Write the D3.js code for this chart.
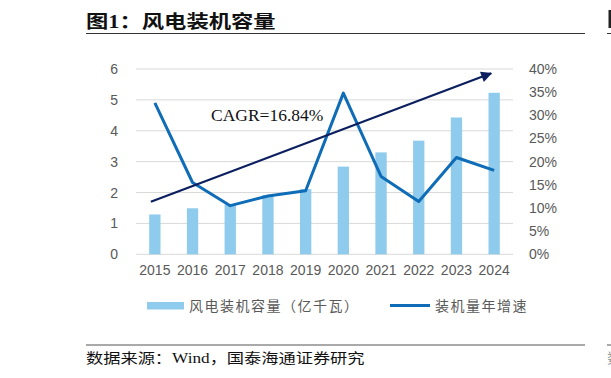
<!DOCTYPE html>
<html>
<head>
<meta charset="utf-8">
<script src="https://cdn.jsdelivr.net/npm/d3@7"></script>
<style>
  body { margin: 0; background: #fff; }
  svg { display: block; }
</style>
</head>
<body>
<div class="chart"></div>
<script>
// chart values
const YEARS = ["2015", "2016", "2017", "2018", "2019", "2020", "2021", "2022", "2023", "2024"];
const CAPACITY = [1.29, 1.49, 1.62, 1.92, 2.11, 2.84, 3.30, 3.68, 4.43, 5.23]; // 亿千瓦
const GROWTH = [0.327, 0.155, 0.105, 0.126, 0.137, 0.348, 0.168, 0.114, 0.209, 0.181];
const LEFT_TICKS = [0, 1, 2, 3, 4, 5, 6];
const RIGHT_TICKS = [0, 0.05, 0.1, 0.15, 0.2, 0.25, 0.3, 0.35, 0.4];
const SERIES_NAMES = ["风电装机容量（亿千瓦）", "装机量年增速"];
const CAGR_LABEL = "CAGR=16.84%";
// trend arrow, start and end in left-axis units
const ARROW_FROM = [YEARS[0], 1.70];
const ARROW_TO = [YEARS[YEARS.length - 1], 5.86];

const TITLE = "图1：风电装机容量";
const SOURCE = "数据来源：Wind，国泰海通证券研究";

const BAR_COLOR = "#8ecbec";
const LINE_COLOR = "#0f6cb6";
const ARROW_COLOR = "#0b1f5e";
const TEXT_COLOR = "#595959";
const GRID_COLOR = "#d9d9d9";
const CJK = "'Liberation Serif', 'Noto Sans CJK SC', serif";
const SANS = "'Liberation Sans', Arial, sans-serif";

const width = 611, height = 378;
const plot = { left: 136, right: 513, top: 69, bottom: 254.3 };

const svg = d3.select(".chart").append("svg")
  .attr("width", width)
  .attr("height", height);

const xScale = d3.scaleBand().domain(YEARS).range([plot.left, plot.right]).padding(0);
const yLeft = d3.scaleLinear().domain([0, 6]).range([plot.bottom, plot.top]);
const yRight = d3.scaleLinear().domain([0, 0.4]).range([plot.bottom, plot.top]);
const cx = d => xScale(d) + xScale.bandwidth() / 2;

// header and footer rules
svg.append("text")
  .attr("transform", "translate(86,28) scale(1.24,1)")
  .attr("font-family", CJK)
  .attr("font-weight", "bold")
  .attr("font-size", 18)
  .attr("fill", "#111")
  .text(TITLE);
svg.append("line").attr("x1", 86).attr("x2", 585).attr("y1", 33.5).attr("y2", 33.5)
  .attr("stroke", "#333").attr("stroke-width", 1);
svg.append("line").attr("x1", 86).attr("x2", 585).attr("y1", 345).attr("y2", 345)
  .attr("stroke", "#555").attr("stroke-width", 1);
svg.append("text")
  .attr("transform", "translate(86,363) scale(1.23,1)")
  .attr("font-family", CJK)
  .attr("font-size", 14)
  .attr("fill", "#111")
  .text(SOURCE);

// edge of the neighbouring column, cut off at the right as in the page
svg.append("line").attr("x1", 607).attr("x2", 611).attr("y1", 33.5).attr("y2", 33.5)
  .attr("stroke", "#333").attr("stroke-width", 1);
svg.append("line").attr("x1", 607).attr("x2", 611).attr("y1", 345).attr("y2", 345)
  .attr("stroke", "#555").attr("stroke-width", 1);
svg.append("rect").attr("x", 608.5).attr("y", 10).attr("width", 2.5).attr("height", 18).attr("fill", "#222");
svg.append("text")
  .attr("transform", "translate(607,363) scale(1.23,1)")
  .attr("font-family", CJK).attr("font-size", 14).attr("fill", "#999")
  .text("数");

// gridlines
svg.append("g").selectAll("line")
  .data(LEFT_TICKS)
  .join("line")
  .attr("x1", plot.left).attr("x2", plot.right)
  .attr("y1", d => yLeft(d)).attr("y2", d => yLeft(d))
  .attr("stroke", GRID_COLOR).attr("stroke-width", 1);

// left axis
const leftAxis = svg.append("g")
  .attr("transform", `translate(${plot.left - 18},0)`)
  .call(d3.axisLeft(yLeft).tickValues(LEFT_TICKS).tickFormat(d3.format("d")).tickSize(0).tickPadding(0));
leftAxis.select(".domain").remove();
leftAxis.selectAll("text")
  .attr("font-family", SANS).attr("font-size", 14).attr("fill", TEXT_COLOR)
  .attr("text-anchor", "end");

// right axis
const rightAxis = svg.append("g")
  .attr("transform", `translate(${plot.right + 16},0)`)
  .call(d3.axisRight(yRight).tickValues(RIGHT_TICKS).tickFormat(d3.format(".0%")).tickSize(0).tickPadding(0));
rightAxis.select(".domain").remove();
rightAxis.selectAll("text")
  .attr("font-family", SANS).attr("font-size", 14).attr("fill", TEXT_COLOR);

// x axis
const xAxis = svg.append("g")
  .attr("transform", `translate(0,${plot.bottom})`)
  .call(d3.axisBottom(xScale).tickSize(0).tickPadding(11));
xAxis.select(".domain").remove();
xAxis.selectAll("text")
  .attr("font-family", SANS).attr("font-size", 14).attr("fill", TEXT_COLOR);

// bars
const barW = xScale.bandwidth() * 0.3;
svg.append("g").selectAll("rect")
  .data(YEARS.map((y, i) => ({ year: y, value: CAPACITY[i] })))
  .join("rect")
  .attr("x", d => cx(d.year) - barW / 2)
  .attr("width", barW)
  .attr("y", d => yLeft(d.value))
  .attr("height", d => yLeft(0) - yLeft(d.value))
  .attr("fill", BAR_COLOR);

// growth line
const line = d3.line()
  .x(d => cx(d.year))
  .y(d => yRight(d.value));
svg.append("path")
  .datum(YEARS.map((y, i) => ({ year: y, value: GROWTH[i] })))
  .attr("d", line)
  .attr("fill", "none")
  .attr("stroke", LINE_COLOR)
  .attr("stroke-width", 3)
  .attr("stroke-linejoin", "round");

// trend arrow
svg.append("defs").append("marker")
  .attr("id", "arrowhead")
  .attr("viewBox", "0 0 10 10")
  .attr("refX", 9).attr("refY", 5)
  .attr("markerUnits", "userSpaceOnUse")
  .attr("markerWidth", 14).attr("markerHeight", 11)
  .attr("orient", "auto")
  .append("path")
  .attr("d", "M0,0 L10,5 L0,10 Z")
  .attr("fill", ARROW_COLOR);
svg.append("line")
  .attr("x1", cx(ARROW_FROM[0]) - 4).attr("y1", yLeft(ARROW_FROM[1]))
  .attr("x2", cx(ARROW_TO[0]) - 3).attr("y2", yLeft(ARROW_TO[1]))
  .attr("stroke", ARROW_COLOR)
  .attr("stroke-width", 2.2)
  .attr("marker-end", "url(#arrowhead)");

svg.append("text")
  .attr("x", 211).attr("y", 121)
  .attr("font-family", "'Liberation Serif', 'Times New Roman', serif")
  .attr("font-size", 17.5)
  .attr("fill", "#111")
  .text(CAGR_LABEL);

// legend
const legend = svg.append("g").attr("font-family", "'Noto Sans CJK SC', sans-serif")
  .attr("font-size", 14).attr("fill", TEXT_COLOR);
legend.append("rect").attr("x", 147).attr("y", 302).attr("width", 37).attr("height", 7.5).attr("fill", BAR_COLOR);
legend.append("text").attr("x", 189).attr("y", 311).attr("letter-spacing", 1.5).text(SERIES_NAMES[0]);
legend.append("line").attr("x1", 390).attr("x2", 430).attr("y1", 305.5).attr("y2", 305.5)
  .attr("stroke", LINE_COLOR).attr("stroke-width", 3);
legend.append("text").attr("x", 435).attr("y", 311).attr("letter-spacing", 1.5).text(SERIES_NAMES[1]);
</script>
</body>
</html>
